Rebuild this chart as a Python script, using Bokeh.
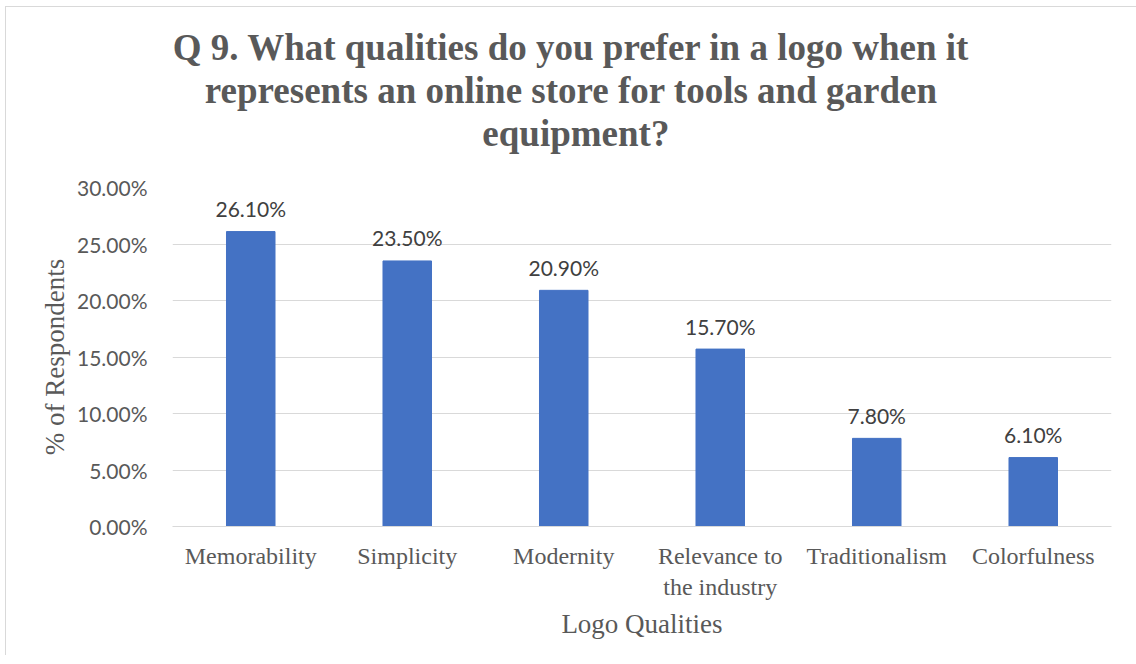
from bokeh.plotting import figure
from bokeh.models import ColumnDataSource, LabelSet, NumeralTickFormatter, FixedTicker, Range1d
from bokeh.layouts import column
from bokeh.core.properties import value
from bokeh.embed import file_html
from bokeh.resources import INLINE

categories = ["Memorability", "Simplicity", "Modernity", "Relevance to\nthe industry", "Traditionalism", "Colorfulness"]
values = [0.261, 0.235, 0.209, 0.157, 0.078, 0.061]
value_labels = ["26.10%", "23.50%", "20.90%", "15.70%", "7.80%", "6.10%"]
title_lines = ["Q 9. What qualities  do you prefer in a logo when it",
               "represents an online  store for tools and garden",
               "equipment?"]

W = 1136
TH = 166
H = 655 - TH

# ---- title strip (pixel coordinates, y downward) ----
t = figure(width=W, height=TH, x_range=Range1d(0, W), y_range=Range1d(TH, 0),
           x_axis_type=None, y_axis_type=None, output_backend="svg", toolbar_location=None,
           min_border=0, min_border_left=0, min_border_right=0, min_border_top=0, min_border_bottom=0)
t.outline_line_color = None
t.grid.visible = False
t.border_fill_color = None
t.background_fill_color = None
tsrc = ColumnDataSource(dict(x=[488, 488, 488], y=[47, 90, 133], text=title_lines))
t.text(x="x", y="y", text="text", source=tsrc, text_align="center", text_baseline="alphabetic",
       text_font=value("Liberation Serif"), text_font_style="bold", text_font_size="37px",
       text_color="#595959")

# ---- bar chart ----
src = ColumnDataSource(dict(cat=categories, val=values, lab=value_labels))
p = figure(x_range=categories, y_range=(0, 0.30), width=W, height=H,
           output_backend="svg", toolbar_location=None,
           min_border_left=172, min_border_right=25, min_border_top=21, min_border_bottom=129)
p.outline_line_color = None
p.border_fill_color = None
p.background_fill_color = None
p.vbar(x="cat", top="val", width=0.31, source=src, color="#4472C4")

p.add_layout(LabelSet(x="cat", y="val", text="lab", source=src, y_offset=23,
                      text_align="center", text_baseline="middle",
                      text_font=value("Lato"), text_font_size="21px", text_color="#404040"))

p.yaxis.ticker = FixedTicker(ticks=[0, 0.05, 0.10, 0.15, 0.20, 0.25, 0.30])
p.yaxis.formatter = NumeralTickFormatter(format="0.00%")
p.yaxis.axis_line_color = None
p.yaxis.major_tick_line_color = None
p.yaxis.minor_tick_line_color = None
p.yaxis.major_label_text_font = "Lato"
p.yaxis.major_label_text_font_size = "21px"
p.yaxis.major_label_text_color = "#595959"
p.yaxis.major_label_standoff = 19
p.yaxis.axis_label = "% of Respondents"
p.yaxis.axis_label_text_font = "Liberation Serif"
p.yaxis.axis_label_text_font_style = "normal"
p.yaxis.axis_label_text_font_size = "27px"
p.yaxis.axis_label_text_color = "#595959"
p.yaxis.axis_label_standoff = 4

p.xaxis.axis_line_color = "#d9d9d9"
p.xaxis.major_tick_line_color = None
p.xaxis.minor_tick_line_color = None
p.xaxis.major_label_text_font = "Liberation Serif"
p.xaxis.major_label_text_font_size = "24px"
p.xaxis.major_label_text_color = "#595959"
p.xaxis.major_label_standoff = 10
p.xaxis.axis_label = "Logo Qualities"
p.xaxis.axis_label_text_font = "Liberation Serif"
p.xaxis.axis_label_text_font_style = "normal"
p.xaxis.axis_label_text_font_size = "27px"
p.xaxis.axis_label_text_color = "#595959"
p.xaxis.axis_label_standoff = 6

p.xgrid.grid_line_color = None
p.ygrid.grid_line_color = "#d9d9d9"
p.ygrid.grid_line_width = 1

bg = ("linear-gradient(#d9d9d9, #d9d9d9) 5px 6px / 1px 100% no-repeat, "
      "linear-gradient(#d9d9d9, #d9d9d9) 5px 6px / 100% 1px no-repeat, white")
layout = column(t, p, spacing=0, styles={"background": bg})
open("out.html", "w").write(file_html(layout, INLINE))
